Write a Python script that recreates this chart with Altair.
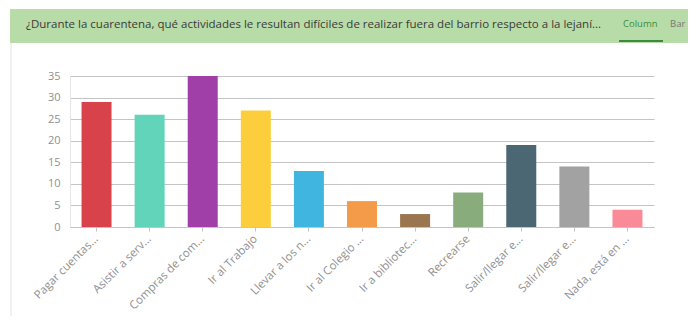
import altair as alt
import pandas as pd

categories = ["Pagar cuentas...", "Asistir a serv...", "Compras de com...", "Ir al Trabajo",
              "Llevar a los n...", "Ir al Colegio ...", "Ir a bibliotec...", "Recrearse",
              "Salir/llegar e...", "Salir/llegar e... ", "Nada, está en ..."]
values = [29, 26, 35, 27, 13, 6, 3, 8, 19, 14, 4]
colors = ["#d8434b", "#62d4b9", "#a13fa8", "#fcce3c", "#40b5e0", "#f39b48",
          "#9b7550", "#89ac7c", "#4c6774", "#a2a2a2", "#f98a97"]
title_text = "¿Durante la cuarentena, qué actividades le resultan difíciles de realizar fuera del barrio respecto a la lejaní..."
y_ticks = [0, 5, 10, 15, 20, 25, 30, 35]

df = pd.DataFrame({"cat": categories, "val": values})

FONT = "Open Sans"

bars = alt.Chart(df).mark_bar().encode(
    x=alt.X("cat:N", sort=categories, title=None,
            scale=alt.Scale(paddingInner=0.435, paddingOuter=0.2175),
            axis=alt.Axis(labelAngle=-45, labelAlign="right", labelBaseline="middle",
                          labelPadding=6, labelLimit=300, labelFontSize=11.5,
                          labelColor="#909090", labelFont=FONT,
                          domainColor="#c4c4c4", tickColor="#c4c4c4", tickSize=4,
                          grid=False)),
    y=alt.Y("val:Q", title=None,
            scale=alt.Scale(domain=[0, 35], nice=False),
            axis=alt.Axis(values=y_ticks, labelFontSize=11, labelColor="#909090",
                          labelFont=FONT, ticks=False, domainColor="#e6e6e6",
                          gridColor="#c4c4c4", labelPadding=10)),
    color=alt.Color("cat:N", sort=categories,
                    scale=alt.Scale(domain=categories, range=colors), legend=None),
)

one = alt.Data(values=[{"a": 1}])

header = alt.Chart(one).mark_rect(color="#b8dca8").encode(
    x=alt.value(-60), x2=alt.value(618), y=alt.value(-67), y2=alt.value(-33))

frame = alt.Chart(one).mark_rule(color="#e2e2e2", strokeWidth=1).encode(
    x=alt.value(-59), y=alt.value(-33), y2=alt.value(240))

title = alt.Chart(one).mark_text(align="left", baseline="middle", font=FONT,
                                 fontSize=11.5, color="#3a3a3a").encode(
    x=alt.value(-44), y=alt.value(-51), text=alt.value(title_text))

col_txt = alt.Chart(one).mark_text(align="left", baseline="middle", font=FONT,
                                   fontSize=9.5, color="#3c8c3c").encode(
    x=alt.value(553), y=alt.value(-52), text=alt.value("Column"))

bar_txt = alt.Chart(one).mark_text(align="left", baseline="middle", font=FONT,
                                   fontSize=9.5, color="#777777").encode(
    x=alt.value(600), y=alt.value(-52), text=alt.value("Bar"))

underline = alt.Chart(one).mark_rect(color="#3f8a3f").encode(
    x=alt.value(549), x2=alt.value(593), y=alt.value(-36), y2=alt.value(-34))

chart = alt.layer(header, frame, title, col_txt, bar_txt, underline, bars).properties(
    width=584, height=151,
    autosize=alt.AutoSizeParams(type="none"),
    padding={"left": 62, "top": 68, "right": 34, "bottom": 89},
).configure_view(stroke=None)

chart.save("out.html", embed_options={"renderer": "svg", "actions": False})
